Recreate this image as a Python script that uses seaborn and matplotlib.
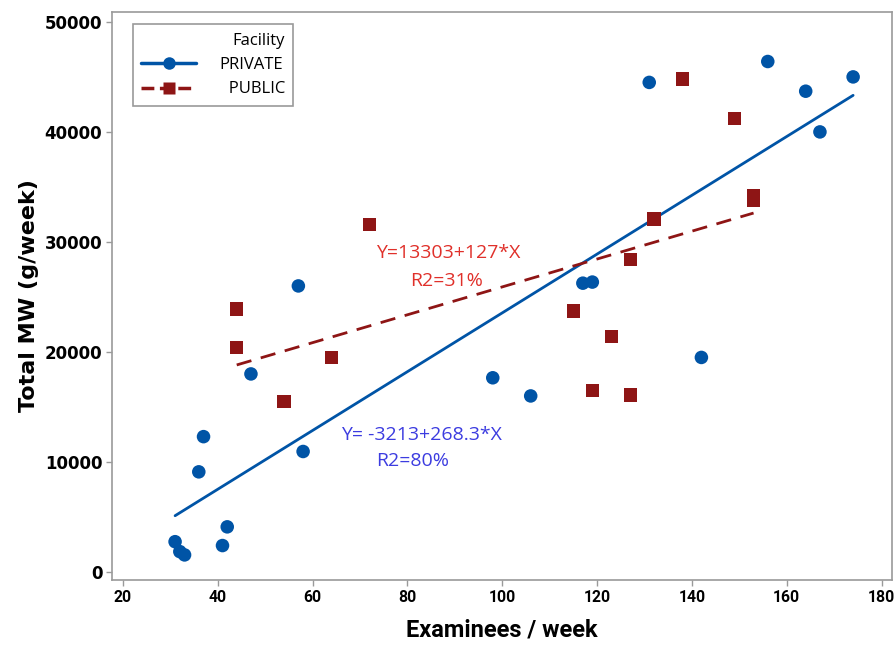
import matplotlib
matplotlib.use("Agg")
import matplotlib.pyplot as plt
from matplotlib.lines import Line2D
import seaborn as sns
import pandas as pd

private_x = [31, 32, 33, 36, 37, 41, 42, 47, 57, 58, 98, 106, 117, 119, 131, 142, 156, 164, 167, 174]
private_y = [2750, 1850, 1550, 9100, 12300, 2400, 4100, 18000, 26000, 10950, 17650, 16000, 26250, 26350,
             44500, 19500, 46400, 43700, 40000, 45000]
public_x = [44, 44, 54, 64, 72, 115, 119, 123, 127, 127, 132, 138, 149, 153, 153]
public_y = [23900, 20400, 15500, 19500, 31600, 23700, 16500, 21400, 28400, 16100, 32100, 44800, 41200,
            34200, 33800]
x_ticks = [20, 40, 60, 80, 100, 120, 140, 160, 180]
y_ticks = [0, 10000, 20000, 30000, 40000, 50000]
eq_private = ["Y= -3213+268.3*X", "R2=80%"]
eq_public = ["Y=13303+127*X", "R2=31%"]
legend_labels = ["PRIVATE", "  PUBLIC"]

df_priv = pd.DataFrame({"x": private_x, "y": private_y})
df_pub = pd.DataFrame({"x": public_x, "y": public_y})

sns.set_theme(style="white")
plt.rcParams["font.family"] = ["DejaVu Sans"]
plt.rcParams["text.color"] = "black"
plt.rcParams["xtick.color"] = "black"
plt.rcParams["ytick.color"] = "black"
plt.rcParams["axes.labelcolor"] = "black"

BLUE = "#0054A6"
RED = "#8E1515"
GRAY = "#9a9a9a"

fig = plt.figure(figsize=(8.94, 6.45), dpi=100)
ax = fig.add_axes([0.1253, 0.1008, 0.873, 0.8806])

sns.regplot(data=df_priv, x="x", y="y", ax=ax, ci=None, marker="o", truncate=True,
            scatter_kws=dict(s=95, color=BLUE, edgecolor="none", alpha=1, zorder=3),
            line_kws=dict(color=BLUE, lw=2.0, zorder=2))
sns.regplot(data=df_pub, x="x", y="y", ax=ax, ci=None, marker="s", truncate=True,
            scatter_kws=dict(s=95, color=RED, edgecolor="none", alpha=1, zorder=3),
            line_kws=dict(color=RED, lw=2.0, ls=(0, (5.5, 3.5)), zorder=2))

ax.set_xlim(17.7, 182.3)
ax.set_ylim(-730, 50900)
ax.set_xticks(x_ticks)
ax.set_yticks(y_ticks)

cond = ["Roboto", "DejaVu Sans"]
ax.set_xticklabels([str(v) for v in x_ticks], fontsize=11.3, fontweight="bold", family=cond)
ax.set_yticklabels([str(v) for v in y_ticks], fontsize=12, fontweight="bold", family=["DejaVu Sans"])
ax.tick_params(axis="both", which="both", direction="out", length=4, width=1, color=GRAY,
               pad=3, bottom=True, left=True, labelcolor="black")
for s in ax.spines.values():
    s.set_color(GRAY)
    s.set_linewidth(1.2)

ax.set_xlabel("Examinees / week", fontsize=17, fontweight="bold", family=cond, labelpad=10)
ax.set_ylabel("Total MW (g/week)", fontsize=16, fontweight="bold", family=["DejaVu Sans"], labelpad=4)

font_ann = ["Open Sans", "DejaVu Sans"]
ax.text(88.7, 29000, eq_public[0], color="#E0302A", fontsize=14, ha="center", va="center", family=font_ann)
ax.text(88.2, 26450, eq_public[1], color="#E0302A", fontsize=14, ha="center", va="center", family=font_ann)
ax.text(83.0, 12450, eq_private[0], color="#3C3CE0", fontsize=14, ha="center", va="center", family=font_ann)
ax.text(81.1, 10090, eq_private[1], color="#3C3CE0", fontsize=14, ha="center", va="center", family=font_ann)

handles = [
    Line2D([], [], color=BLUE, lw=2.5, marker="o", markersize=9, markeredgecolor="none"),
    Line2D([], [], color=RED, lw=2.5, ls="--", marker="s", markersize=9, markeredgecolor="none"),
]
leg = ax.legend(handles, legend_labels, title="Facility", loc="upper left",
                bbox_to_anchor=(0.027, 0.978), borderaxespad=0, frameon=True, fancybox=False,
                framealpha=1, edgecolor=GRAY, handlelength=3.3, handletextpad=1.4, borderpad=0.5,
                labelspacing=0.5, prop={"family": font_ann, "size": 12}, alignment="right")
leg.get_frame().set_linewidth(1.2)
leg.get_title().set_fontsize(12)
leg.get_title().set_family(font_ann)

fig.savefig("out.png", dpi=100)
